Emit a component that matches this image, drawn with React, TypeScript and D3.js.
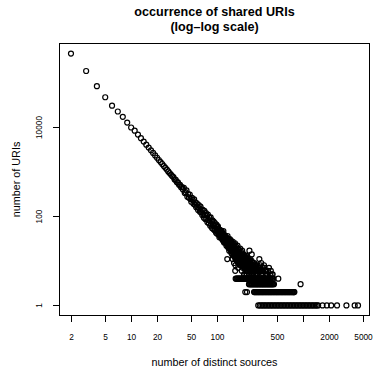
import React from "react";
import * as d3 from "d3";

// x = 2..100, one count per number of sources
const curveSources = [
  2, 3, 4, 5, 6, 7, 8, 9, 10, 11, 12, 13, 14, 15, 16, 17, 18, 19, 20, 21, 22, 23, 24, 25, 26,
  27, 28, 29, 30, 31, 32, 33, 34, 35, 36, 37, 38, 39, 40, 41, 42, 43, 44, 45, 46, 47, 48, 49,
  50, 51, 52, 53, 54, 55, 56, 57, 58, 59, 60, 61, 62, 63, 64, 65, 66, 67, 68, 69, 70, 71, 72,
  73, 74, 75, 76, 77, 78, 79, 80, 81, 82, 83, 84, 85, 86, 87, 88, 89, 90, 91, 92, 93, 94, 95,
  96, 97, 98, 99, 100,
];
const curveUris = [
  459000, 186000, 85100, 47900, 30900, 22900, 17400, 12900, 10000, 8500, 6930, 5750, 4830,
  4110, 3530, 3060, 2680, 2360, 2090, 1860, 1670, 1510, 1360, 1240, 1130, 1030, 948, 873, 807,
  770, 680, 662, 590, 585, 515, 512, 455, 460, 405,
  440, 335, 352, 384, 276, 317, 264, 312, 248, 214, 262, 233, 192, 242, 184, 204, 162, 198, 163,
  139, 180, 152, 127, 166, 125, 143, 108, 141, 112, 94, 133, 108, 87, 119, 88, 105, 74, 110, 83,
  70, 95, 82, 62, 95, 67, 79, 55, 82, 63, 52, 77, 62, 49, 71, 50, 63, 43, 66, 48, 41,
];

// the noisy tail, counts of 5 and more
const scatterSources = [
  101, 102, 103, 104, 105, 106, 107, 108, 109, 110, 111, 112, 113, 114, 115, 116, 117, 118, 118,
  119, 120, 121, 122, 123, 124, 125, 126, 127, 128, 129, 130, 131, 131, 132, 133, 134, 135, 136,
  137, 138, 139, 140, 141, 142, 143, 144, 145, 146, 147, 148, 149, 150, 152, 153, 154, 155, 157,
  158, 159, 160, 162, 162, 163, 165, 166, 168, 169, 171, 172, 174, 175, 177, 178, 180, 182, 183,
  185, 186, 188, 190, 191, 193, 195, 196, 198, 200, 202, 204, 205, 206, 208, 210, 212, 214, 216,
  218, 220, 222, 223, 225, 228, 230, 233, 236, 237, 240, 243, 245, 246, 250, 252, 255, 258, 262,
  265, 268, 272, 276, 280, 285, 290, 300, 309, 310, 318, 320, 330, 338, 345, 355, 360, 370, 380,
  390, 410, 430, 441,
  102, 104, 106, 108, 110, 112, 114, 116, 118, 120, 122, 124, 126, 128, 130, 132, 134, 136, 138,
  140, 142, 144, 146, 148, 150, 152, 154, 156, 158, 160, 161, 164, 166, 167, 170, 172, 173, 176,
  178, 181, 184, 187, 189, 192, 194, 197, 199, 201, 203, 207, 209, 211, 213, 217, 219, 221, 224,
  226, 229, 232, 234, 238, 241, 244, 248, 251, 254, 257, 260, 264, 267, 270, 274, 278, 283, 288,
  295, 302, 315, 325, 335, 350, 365, 400, 420,
  151, 157, 163, 169, 175, 181, 187, 193, 199, 206, 213, 220, 227, 235, 243, 251, 259, 268, 277,
  287, 297, 307,
];
const scatterUris = [
  57, 44, 52, 40, 49, 38, 47, 45, 36, 43, 34, 41, 37, 31, 42, 33, 38, 47, 29,
  35, 31, 37, 27, 33, 30, 35, 25, 31, 28, 24, 33, 27, 11, 22, 29, 26, 21, 30,
  23, 27, 19, 25, 22, 28, 20, 24, 17, 22, 26, 19, 16, 23, 18, 21, 15, 19, 24,
  16, 14, 20, 13, 6, 18, 15, 21, 12, 17, 14, 19, 11, 16, 13, 18, 12, 15, 10,
  19, 13, 11, 14, 9, 12, 17, 10, 13, 9, 11, 14, 5, 8, 10, 12, 7, 9, 11,
  8, 13, 5, 7, 9, 11, 6, 8, 10, 17, 7, 9, 5, 6, 8, 14, 7, 6, 9,
  5, 7, 6, 8, 5, 6, 5, 7, 11, 6, 8, 5, 6, 7, 5, 7, 6, 5, 5,
  6, 5, 5, 5,
  60, 52, 34, 50, 37, 47, 44, 29, 40, 26, 38, 35, 32, 22, 30, 36, 20, 27, 17,
  31, 18, 29, 15, 24, 14, 27, 22, 13, 20, 12, 25, 14, 11, 19, 10, 22, 13, 9,
  15, 10, 14, 8, 16, 11, 8, 14, 7, 12, 8, 13, 7, 10, 6, 12, 7, 10, 6,
  12, 8, 7, 10, 6, 11, 8, 7, 10, 6, 9, 7, 8, 6, 9, 7, 6, 8, 6,
  8, 6, 7, 9, 6, 8, 6, 7, 6,
  11, 9, 8, 10, 7, 9, 8, 6, 9, 7, 5, 8, 6, 5, 7, 6, 5, 6, 5,
  6, 5, 6,
];

// counts of 1..4
const sources4 = [
  164, 168, 171, 175, 178, 182, 185, 189, 192, 196, 200, 204, 208, 212, 216, 220, 225, 230, 234,
  238, 243, 248, 253, 258, 263, 268, 274, 280, 285, 290, 296, 302, 308, 314, 320, 327, 333, 340,
  346, 353, 360, 367, 375, 382, 390, 397, 405, 413, 421, 435, 449, 513,
];
const sources3 = [
  234, 238, 243, 248, 253, 258, 263, 268, 274, 280, 285, 290, 296, 302, 308, 314, 320, 327, 333,
  340, 346, 353, 360, 367, 375, 382, 390, 397, 405, 413, 421, 430, 438, 447, 457, 931,
];
const sources2 = [
  212, 222, 268, 273, 279, 284, 290, 296, 301, 307, 313, 320, 326, 333, 339, 346, 353, 360, 367,
  375, 382, 390, 397, 405, 413, 421, 429, 437, 446, 455, 464, 474, 483, 492, 502, 512, 522, 532,
  543, 554, 565, 576, 587, 599, 611, 623, 635, 648, 661, 674, 687, 700, 714, 728, 743, 757, 772,
  781, 789,
];
const sources1 = [
  300, 312, 325, 338, 351, 365, 380, 395, 411, 427, 444, 462, 481, 500, 520, 541, 562, 585, 608,
  633, 658, 684, 712, 740, 770, 801, 833, 866, 901, 937, 974, 1013, 1054, 1096, 1140, 1185, 1233,
  1282, 1333, 1387, 1442, 1490, 1675, 1880, 2110, 2470, 3175, 3960, 4330,
];

const xTicks = [2, 5, 10, 20, 50, 100, 200, 500, 1000, 2000, 5000];
const xTickLabels = ["2", "5", "10", "20", "50", "100", "", "500", "", "2000", "5000"];
const yTicks = [1, 100, 10000];
const yTickLabels = ["1", "100", "10000"];

const W = 380, H = 368;
const left = 59.5, right = 369.5, top = 43.5, bottom = 315.5;
const font = "'Liberation Sans', Arial, Helvetica, sans-serif";

// R style log range: data extent plus 4% on each side
const logDomain = (vals: number[]) => {
  const [lo, hi] = d3.extent(vals.map(Math.log10)) as [number, number];
  const pad = (hi - lo) * 0.04;
  return [10 ** (lo - pad), 10 ** (hi + pad)];
};

export default function App() {
  const points: [number, number][] = [
    ...curveSources.map((s, i) => [s, curveUris[i]] as [number, number]),
    ...scatterSources.map((s, i) => [s, scatterUris[i]] as [number, number]),
    ...sources4.map((s) => [s, 4] as [number, number]),
    ...sources3.map((s) => [s, 3] as [number, number]),
    ...sources2.map((s) => [s, 2] as [number, number]),
    ...sources1.map((s) => [s, 1] as [number, number]),
  ];

  const x = d3.scaleLog().domain(logDomain(points.map((p) => p[0]))).range([left, right]);
  const y = d3.scaleLog().domain(logDomain(points.map((p) => p[1]))).range([bottom, top]);
  const cx = (left + right) / 2;
  const cy = (top + bottom) / 2;

  return (
    <svg width={W} height={H} style={{ position: "absolute", left: 0, top: 0, background: "#fff" }}>
      <g fontFamily={font}>
        <text x={cx} y={15.5} textAnchor="middle" fontWeight="bold" fontSize={12.6}>
          occurrence of shared URIs
        </text>
        <text x={cx} y={30.5} textAnchor="middle" fontWeight="bold" fontSize={12.6}>
          (log–log scale)
        </text>

        {points.map(([s, u], i) => (
          <circle key={i} cx={x(s)} cy={y(u)} r={2.5} fill="none" stroke="#000" strokeWidth={1.2} />
        ))}

        <rect x={left} y={top} width={right - left} height={bottom - top} fill="none" stroke="#000" strokeWidth={1} />

        {xTicks.map((t, i) => (
          <g key={t} transform={`translate(${Math.round(x(t)) + 0.5},0)`}>
            <line y1={bottom} y2={bottom + 6.5} stroke="#000" />
            <text y={339.5} textAnchor="middle" fontSize={8.3}>{xTickLabels[i]}</text>
          </g>
        ))}
        {yTicks.map((t, i) => (
          <g key={t} transform={`translate(0,${Math.round(y(t)) + 0.5})`}>
            <line x1={left} x2={left - 6.5} stroke="#000" />
            <text transform="translate(42,0) rotate(-90)" textAnchor="middle" fontSize={8.3}>
              {yTickLabels[i]}
            </text>
          </g>
        ))}

        <text x={cx} y={366} textAnchor="middle" fontSize={10.8}>number of distinct sources</text>
        <text transform={`translate(20,${cy}) rotate(-90)`} textAnchor="middle" fontSize={10.8}>
          number of URIs
        </text>
      </g>
    </svg>
  );
}
